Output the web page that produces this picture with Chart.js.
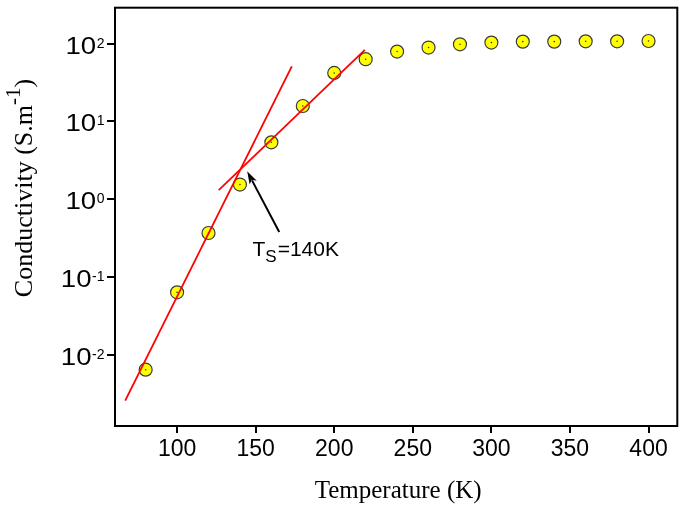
<!DOCTYPE html>
<html>
<head>
<meta charset="utf-8">
<script src="https://cdn.jsdelivr.net/npm/chart.js@4.4.1/dist/chart.umd.min.js"></script>
<style>
  html, body { margin: 0; padding: 0; background: #fff; }
</style>
</head>
<body>
<canvas id="chart" width="685" height="506"></canvas>
<script>
// Measured conductivity vs temperature
const temperature = [80, 100, 120, 140, 160, 180, 200, 220, 240, 260, 280, 300, 320, 340, 360, 380, 400];
const conductivity = [0.0065, 0.064, 0.37, 1.55, 5.4, 15.8, 42, 63, 79, 89, 98, 103, 106, 106, 107, 107, 108];

// Two linear (on log scale) fits, given by their end points
const fitSteepT = [67, 173];
const fitSteepSigma = [0.0026, 51];
const fitShallowT = [126.5, 219.5];
const fitShallowSigma = [1.31, 83];

// Axis ticks
const xTicks = [100, 150, 200, 250, 300, 350, 400];
const yTicks = [0.01, 0.1, 1, 10, 100];
const yTickExponents = ['-2', '-1', '0', '1', '2'];

// Arrow pointing at the crossing, and its label
const arrowFrom = { t: 165, sigma: 0.38 };
const arrowTo = { t: 144.6, sigma: 2.3 };
const noteAt = { t: 148, sigma: 0.19 };

const toPoints = (xs, ys) => xs.map((v, i) => ({ x: v, y: ys[i] }));

const overlay = {
  id: 'overlay',
  afterDraw(chart) {
    const { ctx, chartArea: a, scales: { x, y } } = chart;
    ctx.save();

    // frame round the plot area
    ctx.strokeStyle = '#000';
    ctx.lineWidth = 2;
    ctx.strokeRect(a.left, a.top, a.right - a.left, a.bottom - a.top);

    // y tick labels as 10^n
    ctx.fillStyle = '#000';
    ctx.textBaseline = 'alphabetic';
    yTicks.forEach((v, i) => {
      const py = y.getPixelForValue(v);
      ctx.font = '23px "Liberation Sans", Arial, sans-serif';
      const sx = 1.2;
      const wb = ctx.measureText('10').width * sx;
      ctx.font = '14px "Liberation Sans", Arial, sans-serif';
      const we = ctx.measureText(yTickExponents[i]).width;
      const right = 104;
      const x0 = right - we - wb;
      ctx.save();
      ctx.translate(x0, py + 10);
      ctx.scale(sx, 1);
      ctx.font = '23px "Liberation Sans", Arial, sans-serif';
      ctx.fillText('10', 0, 0);
      ctx.restore();
      ctx.font = '14px "Liberation Sans", Arial, sans-serif';
      ctx.fillText(yTickExponents[i], x0 + wb + 0.5, py + 4);
    });

    // arrow
    const fx = x.getPixelForValue(arrowFrom.t), fy = y.getPixelForValue(arrowFrom.sigma);
    const tx = x.getPixelForValue(arrowTo.t), ty = y.getPixelForValue(arrowTo.sigma);
    const ang = Math.atan2(ty - fy, tx - fx);
    const headLen = 13, headW = 4;
    ctx.strokeStyle = '#000';
    ctx.lineWidth = 2;
    ctx.beginPath();
    ctx.moveTo(fx, fy);
    ctx.lineTo(tx - Math.cos(ang) * headLen * 0.8, ty - Math.sin(ang) * headLen * 0.8);
    ctx.stroke();
    ctx.beginPath();
    ctx.moveTo(tx, ty);
    ctx.lineTo(tx - Math.cos(ang) * headLen - Math.sin(ang) * headW, ty - Math.sin(ang) * headLen + Math.cos(ang) * headW);
    ctx.lineTo(tx - Math.cos(ang) * headLen * 0.75, ty - Math.sin(ang) * headLen * 0.75);
    ctx.lineTo(tx - Math.cos(ang) * headLen + Math.sin(ang) * headW, ty - Math.sin(ang) * headLen - Math.cos(ang) * headW);
    ctx.closePath();
    ctx.fill();

    // T_S=140K note
    let nx = x.getPixelForValue(noteAt.t);
    const ny = y.getPixelForValue(noteAt.sigma);
    ctx.font = '21px "Liberation Sans", Arial, sans-serif';
    ctx.fillText('T', nx, ny);
    nx += ctx.measureText('T').width;
    ctx.font = '17px "Liberation Sans", Arial, sans-serif';
    ctx.fillText('S', nx, ny + 6);
    nx += ctx.measureText('S').width + 1;
    ctx.font = '21px "Liberation Sans", Arial, sans-serif';
    ctx.fillText('=140K', nx, ny);

    // x axis title
    ctx.font = '25px "Liberation Serif", "Times New Roman", serif';
    ctx.textAlign = 'center';
    ctx.fillText('Temperature (K)', (a.left + a.right) / 2 + 2, 498);

    // y axis title, rotated, with superscript
    ctx.textAlign = 'left';
    const mainFont = '26px "Liberation Serif", "Times New Roman", serif';
    const supFont = '21px "Liberation Serif", "Times New Roman", serif';
    const p1 = 'Conductivity (S.m', p2 = '-1', p3 = ')';
    ctx.font = mainFont;
    const w1 = ctx.measureText(p1).width, w3 = ctx.measureText(p3).width;
    ctx.font = supFont;
    const w2 = ctx.measureText(p2).width;
    const total = w1 + w2 + w3;
    ctx.translate(32, 188);
    ctx.rotate(-Math.PI / 2);
    let cx = -total / 2;
    ctx.font = mainFont;
    ctx.fillText(p1, cx, 0);
    cx += w1;
    ctx.font = supFont;
    ctx.fillText(p2, cx, -12);
    cx += w2;
    ctx.font = mainFont;
    ctx.fillText(p3, cx, 0);

    ctx.restore();
  }
};

const lineStyle = {
  type: 'line',
  showLine: true,
  borderColor: '#ff0000',
  borderWidth: 1.8,
  pointRadius: 0,
  fill: false,
  order: 0
};

new Chart(document.getElementById('chart'), {
  type: 'scatter',
  data: {
    datasets: [
      {
        ...lineStyle,
        label: 'Fit low T',
        data: toPoints(fitSteepT, fitSteepSigma)
      },
      {
        ...lineStyle,
        label: 'Fit high T',
        data: toPoints(fitShallowT, fitShallowSigma)
      },
      {
        label: 'Conductivity',
        data: toPoints(temperature, conductivity),
        pointRadius: 6.5,
        pointBackgroundColor: '#ffff00',
        pointBorderColor: '#3a3a3a',
        pointBorderWidth: 1.2,
        order: 2
      },
      {
        // tiny centre dot of each marker
        label: 'centre',
        data: toPoints(temperature, conductivity),
        pointRadius: 0.8,
        pointBackgroundColor: '#333',
        pointBorderWidth: 0,
        order: 1
      }
    ]
  },
  options: {
    responsive: false,
    animation: false,
    layout: { padding: { left: 0, right: 5, top: 3, bottom: 0 } },
    plugins: {
      legend: { display: false },
      tooltip: { enabled: false }
    },
    scales: {
      x: {
        type: 'linear',
        min: 60.5,
        max: 418.3,
        afterBuildTicks: (scale) => { scale.ticks = xTicks.map(v => ({ value: v })); },
        afterFit: (scale) => { scale.height = 80; },
        border: { display: false },
        grid: {
          drawOnChartArea: false,
          drawTicks: true,
          tickLength: 7,
          color: '#000',
          lineWidth: 2
        },
        ticks: {
          autoSkip: false,
          maxRotation: 0,
          padding: 3,
          color: '#000',
          font: { family: '"Liberation Sans", Arial, sans-serif', size: 23 }
        }
      },
      y: {
        type: 'logarithmic',
        min: 0.00123,
        max: 289,
        afterBuildTicks: (scale) => { scale.ticks = yTicks.map(v => ({ value: v })); },
        afterFit: (scale) => { scale.width = 115; },
        border: { display: false },
        grid: {
          drawOnChartArea: false,
          drawTicks: true,
          tickLength: 8,
          color: '#000',
          lineWidth: 2
        },
        ticks: { display: false, autoSkip: false }
      }
    }
  },
  plugins: [overlay]
});
</script>
</body>
</html>
